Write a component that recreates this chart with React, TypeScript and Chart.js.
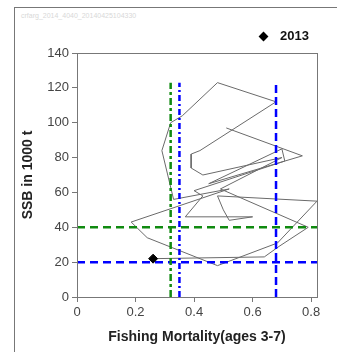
import React, { useEffect, useRef } from "react";
import { Chart, registerables } from "chart.js";

Chart.register(...registerables);

// Stock trajectory (fishing mortality vs SSB), one point per year
const years = [1980, 1981, 1982, 1983, 1984, 1985, 1986, 1987, 1988, 1989, 1990, 1991, 1992, 1993, 1994, 1995, 1996, 1997, 1998, 1999, 2000, 2001, 2002, 2003, 2004, 2005, 2006, 2007, 2008, 2009, 2010, 2011, 2012, 2013];
const fishingMortality = [0.51, 0.77, 0.45, 0.70, 0.71, 0.40, 0.43, 0.37, 0.60, 0.52, 0.50, 0.48, 0.82, 0.685, 0.48, 0.24, 0.185, 0.52, 0.33, 0.29, 0.32, 0.36, 0.48, 0.68, 0.42, 0.39, 0.39, 0.43, 0.70, 0.49, 0.79, 0.69, 0.64, 0.26];
const ssb = [97, 81, 65, 85, 78, 61, 58, 46, 46, 44, 50, 58, 55, 31, 18, 34, 43, 62, 56, 84, 100, 104, 123, 112, 84, 82, 74, 70, 80, 62, 40, 29, 23, 22];

// Reference points
const fGreen = 0.32;
const fBlueDashDot = 0.35;
const fBlueDashed = 0.68;
const bGreen = 40;
const bBlue = 20;
const refTop = 123;

const xMin = 0;
const xMax = 0.82;
const yMin = 0;
const yMax = 140;
const xTickStep = 0.2;
const yTickStep = 20;

const lastYear = "2013";
const xTitle = "Fishing Mortality(ages 3-7)";
const yTitle = "SSB in 1000 t";
const watermark = "crfarg_2014_4040_20140425104330";

const frameColor = "#777777";

const plotFrame = {
  id: "plotFrame",
  afterDraw(chart: any) {
    const { ctx, chartArea } = chart;
    ctx.save();
    ctx.strokeStyle = frameColor;
    ctx.lineWidth = 1;
    ctx.strokeRect(
      Math.round(chartArea.left) + 0.5,
      Math.round(chartArea.top) + 0.5,
      Math.round(chartArea.right - chartArea.left),
      Math.round(chartArea.bottom - chartArea.top)
    );
    ctx.restore();
  },
};

export default function App() {
  const ref = useRef<HTMLCanvasElement | null>(null);

  useEffect(() => {
    if (!ref.current) return;
    Chart.defaults.font.family = "'Liberation Sans', Arial, sans-serif";
    const trajectory = years.map((_, i) => ({ x: fishingMortality[i], y: ssb[i] }));
    const last = trajectory[trajectory.length - 1];

    const chart = new Chart(ref.current, {
      type: "scatter",
      data: {
        datasets: [
          {
            label: lastYear,
            data: [last],
            pointStyle: "rectRot",
            pointRadius: 4.5,
            backgroundColor: "#000",
            borderColor: "#000",
            showLine: false,
          },
          {
            label: "Blue dashed F",
            data: [{ x: fBlueDashed, y: yMin }, { x: fBlueDashed, y: refTop }],
            showLine: true,
            borderColor: "#0000ff",
            borderWidth: 2.5,
            borderDash: [8, 4],
            pointRadius: 0,
          },
          {
            label: "Blue dash-dot F",
            data: [{ x: fBlueDashDot, y: yMin }, { x: fBlueDashDot, y: refTop }],
            showLine: true,
            borderColor: "#0000ff",
            borderWidth: 2.5,
            borderDash: [6, 3, 2, 3],
            pointRadius: 0,
          },
          {
            label: "Green F",
            data: [{ x: fGreen, y: yMin }, { x: fGreen, y: refTop }],
            showLine: true,
            borderColor: "#108a10",
            borderWidth: 2.5,
            borderDash: [7, 3, 3, 3],
            pointRadius: 0,
          },
          {
            label: "Blue B",
            data: [{ x: xMin, y: bBlue }, { x: xMax, y: bBlue }],
            showLine: true,
            borderColor: "#0000ff",
            borderWidth: 2.5,
            borderDash: [8, 5],
            pointRadius: 0,
          },
          {
            label: "Green B",
            data: [{ x: xMin, y: bGreen }, { x: xMax, y: bGreen }],
            showLine: true,
            borderColor: "#108a10",
            borderWidth: 2.5,
            borderDash: [8, 5],
            pointRadius: 0,
          },
          {
            label: "Trajectory",
            data: trajectory,
            showLine: true,
            borderColor: "#6a6a6a",
            borderWidth: 1,
            pointRadius: 0,
            tension: 0,
          },
        ],
      },
      options: {
        animation: false,
        responsive: false,
        maintainAspectRatio: false,
        layout: { padding: { left: 14, top: 53, right: 20, bottom: 4 } },
        plugins: { legend: { display: false }, tooltip: { enabled: false } },
        scales: {
          x: {
            type: "linear",
            min: xMin,
            max: xMax,
            afterFit: (s: any) => {
              s.height = 51;
            },
            ticks: {
              stepSize: xTickStep,
              includeBounds: false,
              padding: 3,
              color: "#444",
              font: { size: 13 },
              callback: (v: any) => String(Math.round(Number(v) * 10) / 10),
            },
            grid: { drawOnChartArea: false, drawTicks: true, tickLength: 5, color: frameColor },
            border: { display: true, color: frameColor },
            title: {
              display: true,
              text: xTitle,
              color: "#222",
              font: { size: 14, weight: "bold" },
              padding: { top: 0, bottom: 2 },
            },
          },
          y: {
            type: "linear",
            min: yMin,
            max: yMax,
            afterFit: (s: any) => {
              s.width = 63;
            },
            ticks: {
              stepSize: yTickStep,
              padding: 3,
              color: "#444",
              font: { size: 13 },
            },
            grid: { drawOnChartArea: false, drawTicks: true, tickLength: 5, color: frameColor },
            border: { display: true, color: frameColor },
            title: {
              display: true,
              text: yTitle,
              color: "#222",
              font: { size: 14, weight: "bold" },
              padding: { top: 6, bottom: 0 },
            },
          },
        },
      },
      plugins: [plotFrame],
    });
    return () => chart.destroy();
  }, []);

  return (
    <div
      style={{
        position: "fixed",
        left: 0,
        top: 0,
        width: 337,
        height: 352,
        overflow: "hidden",
        background: "#fff",
        fontFamily: "'Liberation Sans', Arial, sans-serif",
      }}
    >
      <div
        style={{
          position: "absolute",
          left: 14,
          top: 7,
          width: 400,
          height: 400,
          border: `1px solid ${frameColor}`,
          boxSizing: "border-box",
        }}
      />
      <div
        style={{
          position: "absolute",
          left: 21,
          top: 12,
          fontSize: 7,
          color: "#d8d8d8",
          whiteSpace: "nowrap",
        }}
      >
        {watermark}
      </div>
      <canvas ref={ref} width={337} height={352} style={{ position: "absolute", left: 0, top: 0 }} />
      <div
        style={{
          position: "absolute",
          left: 259.5,
          top: 32.5,
          width: 7,
          height: 7,
          background: "#000",
          transform: "rotate(45deg)",
        }}
      />
      <div
        style={{
          position: "absolute",
          left: 280,
          top: 28,
          fontSize: 13,
          fontWeight: "bold",
          color: "#111",
          lineHeight: "16px",
        }}
      >
        {lastYear}
      </div>
    </div>
  );
}
